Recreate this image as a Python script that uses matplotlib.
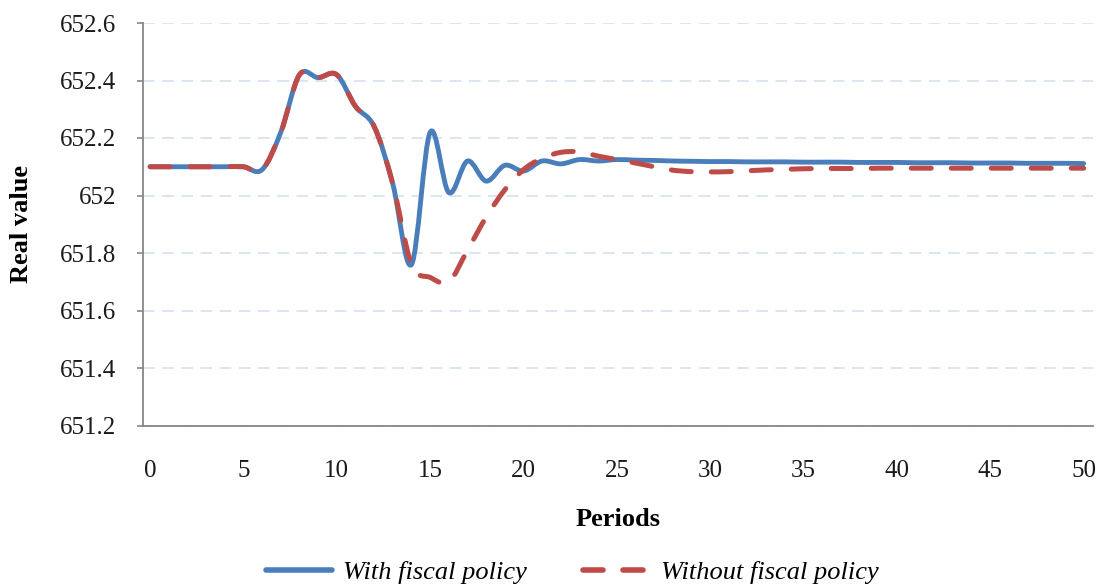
import numpy as np
import matplotlib
matplotlib.use('Agg')
import matplotlib.pyplot as plt
from matplotlib.path import Path
from matplotlib.patches import PathPatch
from matplotlib.lines import Line2D


# Periods 0..50 and the two simulated series.
periods = list(range(51))

with_fiscal = [
    652.10, 652.10, 652.10, 652.10, 652.10, 652.10, 652.09, 652.22, 652.42, 652.41,
    652.42, 652.31, 652.24, 652.04, 651.76, 652.22, 652.01, 652.12, 652.05, 652.105,
    652.085, 652.12, 652.11, 652.125, 652.12, 652.125, 652.123, 652.122, 652.120, 652.119,
    652.118, 652.118, 652.117, 652.117, 652.117, 652.116, 652.116, 652.116, 652.115, 652.115,
    652.115, 652.114, 652.114, 652.114, 652.113, 652.113, 652.113, 652.112, 652.112, 652.112,
    652.111,
]

without_fiscal = [
    652.10, 652.10, 652.10, 652.10, 652.10, 652.10, 652.09, 652.22, 652.42, 652.41,
    652.42, 652.31, 652.24, 652.04, 651.76, 651.715, 651.70, 651.81, 651.925, 652.02,
    652.09, 652.13, 652.15, 652.152, 652.137, 652.125, 652.113, 652.100, 652.088, 652.083,
    652.082, 652.083, 652.086, 652.089, 652.091, 652.093, 652.094, 652.094, 652.094, 652.095,
    652.095, 652.095, 652.095, 652.095, 652.095, 652.095, 652.095, 652.095, 652.095, 652.095,
    652.095,
]

y_ticks = [651.2, 651.4, 651.6, 651.8, 652.0, 652.2, 652.4, 652.6]
y_tick_labels = ['651.2', '651.4', '651.6', '651.8', '652', '652.2', '652.4', '652.6']
x_ticks = list(range(0, 51, 5))

BLUE = '#4a7ebb'
RED = '#be4b48'
GRAY = '#868686'
SERIF = ['Liberation Serif', 'DejaVu Serif']


def smooth_path(xs, ys):
    # Excel-style smoothed line: cubic Bezier segments (Catmull-Rom control points).
    pts = np.column_stack([xs, ys]).astype(float)
    n = len(pts)
    verts = [pts[0]]
    codes = [Path.MOVETO]
    for i in range(n - 1):
        p0 = pts[max(i - 1, 0)]
        p1 = pts[i]
        p2 = pts[i + 1]
        p3 = pts[min(i + 2, n - 1)]
        c1 = p1 + (p2 - p0) / 6.0
        c2 = p2 - (p3 - p1) / 6.0
        verts += [c1, c2, p2]
        codes += [Path.CURVE4] * 3
    return Path(verts, codes)


fig = plt.figure(figsize=(11, 5.85), dpi=100)
ax = fig.add_axes([143 / 1100, 1 - 425.5 / 585, (1093 - 143) / 1100, (425.5 - 23) / 585])

ax.set_xlim(-0.38, 50.5)
ax.set_ylim(651.2, 652.6)

# gridlines
for v in y_ticks:
    ax.axhline(v, color='#d6e0f0', lw=1.2, linestyle=(0, (7, 4.5)), zorder=0)

blue_patch = PathPatch(smooth_path(periods, with_fiscal), fill=False, edgecolor=BLUE,
                       lw=3.5, capstyle='round', joinstyle='round', zorder=3)
red_patch = PathPatch(smooth_path(periods, without_fiscal), fill=False, edgecolor=RED,
                      lw=3.6, linestyle=(0, (4.0, 4.0)), capstyle='round', joinstyle='round', zorder=4)
ax.add_patch(blue_patch)
ax.add_patch(red_patch)

# axes styling
for side in ['top', 'right']:
    ax.spines[side].set_visible(False)
for side in ['left', 'bottom']:
    ax.spines[side].set_color(GRAY)
    ax.spines[side].set_linewidth(1.3)

ax.set_yticks(y_ticks)
ax.set_yticklabels(y_tick_labels)
ax.set_xticks(x_ticks)
ax.set_xticklabels([str(t) for t in x_ticks])
ax.tick_params(axis='y', direction='out', length=4, width=1.2, color=GRAY, pad=15, labelsize=18)
ax.tick_params(axis='x', length=0, pad=25, labelsize=18)
for lab in ax.get_xticklabels() + ax.get_yticklabels():
    lab.set_family(SERIF)
    lab.set_color('#1a1a1a')

fig.text(22 / 1100, 1 - 224 / 585, 'Real value', rotation=90, ha='center', va='center',
         family=SERIF, fontweight='bold', fontsize=19)
fig.text(618 / 1100, 1 - 520 / 585, 'Periods', ha='center', va='center',
         family=SERIF, fontweight='bold', fontsize=19)

handles = [
    Line2D([], [], color=BLUE, lw=4, solid_capstyle='round'),
    Line2D([], [], color=RED, lw=4, linestyle=(0, (3.6, 3.6)), dash_capstyle='round'),
]
fig.legend(handles, ['With fiscal policy', 'Without fiscal policy'], loc='center',
           bbox_to_anchor=(572 / 1100, 1 - 572 / 585), ncol=2, frameon=False,
           handlelength=2.5, handletextpad=0.45, columnspacing=2.1,
           prop={'family': SERIF, 'style': 'italic', 'size': 19})

fig.savefig('out.png', dpi=100)
